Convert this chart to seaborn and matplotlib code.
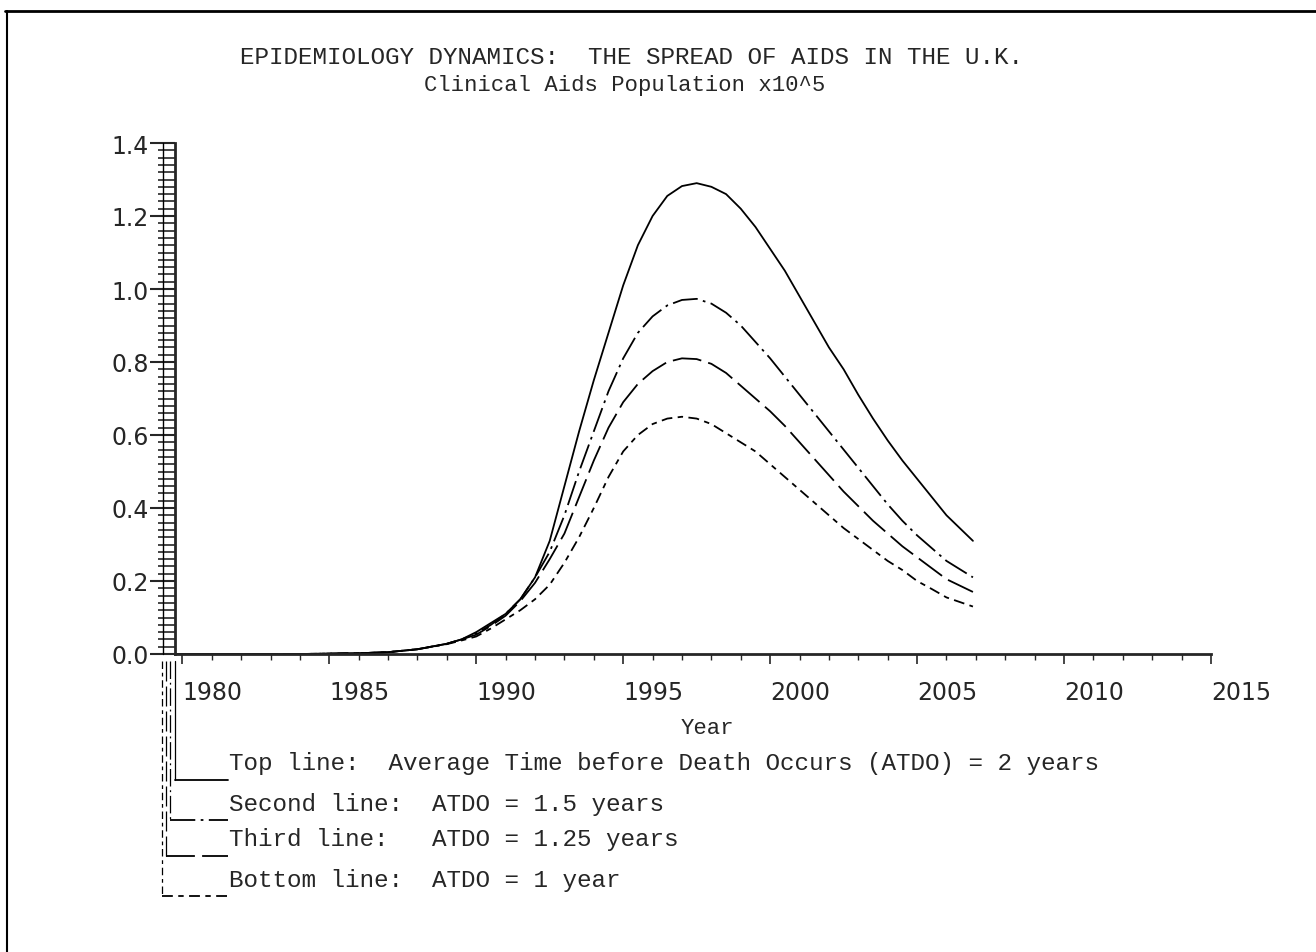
import numpy as np
import pandas as pd
import matplotlib
matplotlib.use("Agg")
import matplotlib.pyplot as plt
from matplotlib.lines import Line2D
import seaborn as sns

# data (clinical AIDS population, x10^5)
years = [1979.75, 1982, 1984, 1986, 1987, 1988, 1989, 1989.5, 1990, 1990.5,
         1991, 1991.5, 1992, 1992.5, 1993, 1993.5, 1994, 1994.5, 1995, 1995.5,
         1996, 1996.5, 1997, 1997.5, 1998, 1998.5, 1999, 1999.5, 2000, 2000.5,
         2001, 2001.5, 2002, 2002.5, 2003, 2003.5, 2004, 2004.5, 2005, 2005.5,
         2006, 2006.9]

atdo_2 = [0, 0, 0, 0.002, 0.005, 0.013, 0.028, 0.04, 0.06, 0.085,
          0.11, 0.15, 0.21, 0.31, 0.46, 0.61, 0.75, 0.88, 1.01, 1.12,
          1.20, 1.255, 1.282, 1.29, 1.28, 1.26, 1.22, 1.17, 1.11, 1.05,
          0.98, 0.91, 0.84, 0.78, 0.71, 0.645, 0.585, 0.53, 0.48, 0.43,
          0.38, 0.31]
atdo_15 = [0, 0, 0, 0.002, 0.005, 0.013, 0.028, 0.04, 0.056, 0.08,
           0.11, 0.15, 0.21, 0.28, 0.38, 0.50, 0.61, 0.72, 0.81, 0.88,
           0.925, 0.955, 0.97, 0.973, 0.96, 0.935, 0.90, 0.855, 0.81, 0.76,
           0.71, 0.66, 0.61, 0.56, 0.51, 0.46, 0.41, 0.365, 0.325, 0.29,
           0.255, 0.21]
atdo_125 = [0, 0, 0, 0.002, 0.005, 0.013, 0.028, 0.04, 0.053, 0.077,
            0.105, 0.145, 0.195, 0.26, 0.33, 0.43, 0.53, 0.62, 0.69, 0.74,
            0.775, 0.80, 0.81, 0.808, 0.795, 0.77, 0.735, 0.70, 0.665, 0.625,
            0.58, 0.535, 0.49, 0.445, 0.405, 0.365, 0.33, 0.295, 0.265, 0.235,
            0.205, 0.17]
atdo_1 = [0, 0, 0, 0.002, 0.005, 0.013, 0.027, 0.037, 0.048, 0.07,
          0.095, 0.12, 0.15, 0.19, 0.25, 0.32, 0.40, 0.485, 0.555, 0.60,
          0.63, 0.645, 0.65, 0.645, 0.63, 0.605, 0.58, 0.555, 0.52, 0.485,
          0.45, 0.415, 0.38, 0.345, 0.315, 0.285, 0.255, 0.23, 0.20, 0.178,
          0.155, 0.13]

legend_labels = [
    "Top line:  Average Time before Death Occurs (ATDO) = 2 years",
    "Second line:  ATDO = 1.5 years",
    "Third line:   ATDO = 1.25 years",
    "Bottom line:  ATDO = 1 year",
]
styles = ["-", (0, (14, 3, 1.5, 3)), (0, (16, 4)), (0, (6, 3, 3, 3))]

sns.set_style("ticks")
plt.rcParams["font.family"] = ["DejaVu Sans"]

W, H = 1316, 953
fig = plt.figure(figsize=(W / 100, H / 100), dpi=100)
ax = fig.add_axes([175 / W, 1 - 655 / H, (1211 - 175) / W, (655 - 144) / H])

df = pd.DataFrame({"year": years, "2": atdo_2, "1.5": atdo_15,
                   "1.25": atdo_125, "1": atdo_1})
for col, ls in zip(["2", "1.5", "1.25", "1"], styles):
    sns.lineplot(data=df, x="year", y=col, ax=ax, color="black", lw=1.3)
    ax.lines[-1].set_linestyle(ls)

ax.set_xlim(1979.75, 2015)
ax.set_ylim(0, 1.4)
ax.set_xticks(range(1980, 2016, 5))
ax.set_xticks(range(1980, 2016), minor=True)
ax.set_yticks(np.arange(0, 1.41, 0.2))
ax.set_yticks(np.arange(0, 1.41, 0.02), minor=True)
ax.set_yticklabels([f"{v:.1f}" for v in np.arange(0, 1.41, 0.2)])
sns.despine(ax=ax)
for s in ["left", "bottom"]:
    ax.spines[s].set_linewidth(2)
ax.tick_params(axis="x", which="major", direction="out", length=7, width=1.2,
               pad=12, labelsize=17)
ax.tick_params(axis="x", which="minor", direction="out", length=4, width=1)
ax.tick_params(axis="y", which="major", direction="out", length=18, width=1.5,
               pad=1, labelsize=17)
ax.tick_params(axis="y", which="minor", direction="out", length=12, width=1.2)
for lab in ax.get_xticklabels():
    lab.set_horizontalalignment("left")
ax.set_xlabel("Year", family="Liberation Mono", fontsize=16)
ax.xaxis.set_label_coords((707 - 175) / 1036, (655 - 718) / 511)
ax.set_ylabel("")

# second ladder line left of the y axis
fig.add_artist(Line2D([163 / W, 163 / W], [1 - 655 / H, 1 - 144 / H],
                      color="black", lw=1))

fig.text(631 / W, 1 - 57 / H,
         "EPIDEMIOLOGY DYNAMICS:  THE SPREAD OF AIDS IN THE U.K.",
         family="Liberation Mono", fontsize=17.5, ha="center", va="center")
fig.text(625 / W, 1 - 85 / H, "Clinical Aids Population x10^5",
         family="Liberation Mono", fontsize=16, ha="center", va="center")

# legend drawn below the axis as nested brackets, like the plotter output
rows = [764, 804, 840, 880]
bracket_x = [175, 170, 166, 162]
for y, bx, txt, ls in zip(rows, bracket_x, legend_labels, styles):
    fig.text(229 / W, 1 - y / H, txt, family="Liberation Mono",
             fontsize=17.5, ha="left", va="center")
    ys = 1 - (y + 17) / H
    fig.add_artist(Line2D([bx / W, bx / W], [1 - 662 / H, ys],
                          color="black", lw=0.9, linestyle=ls))
    fig.add_artist(Line2D([bx / W, 228 / W], [ys, ys],
                          color="black", lw=1.3, linestyle=ls))

# page border of the scan
fig.add_artist(Line2D([5 / W, 1], [1 - 12 / H] * 2, color="black", lw=2))
fig.add_artist(Line2D([7 / W, 7 / W], [1 - 12 / H, 0], color="black", lw=1.5))

fig.savefig("out.png", dpi=100)
